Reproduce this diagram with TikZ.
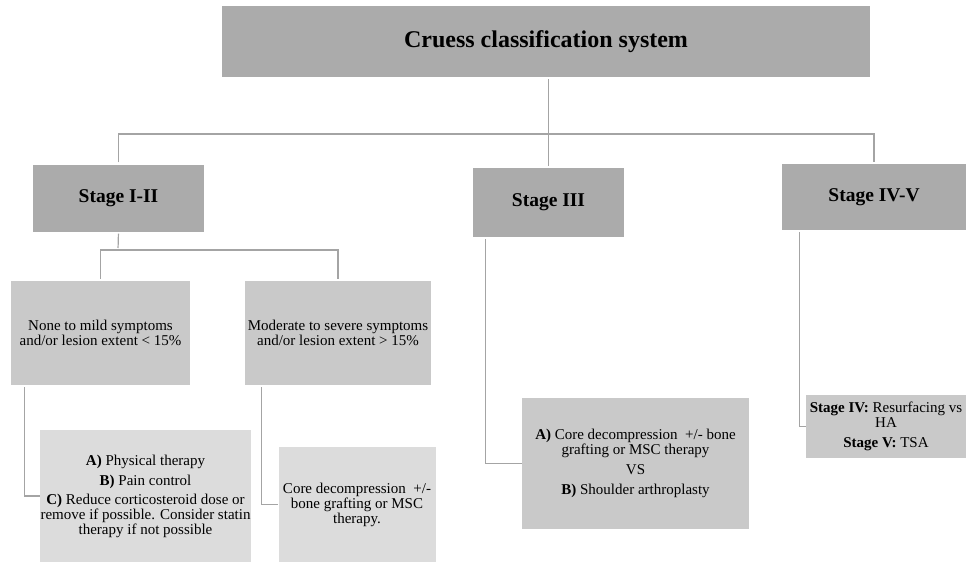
\documentclass[tikz,border=0pt]{standalone}
\usepackage{fontspec}
\setmainfont{Liberation Serif}
\usepackage{xcolor}
\usepackage{tikz}
\usetikzlibrary{positioning,calc}

\definecolor{boxdark}{HTML}{ABABAB}
\definecolor{boxmid}{HTML}{C9C9C9}
\definecolor{boxlight}{HTML}{DCDCDC}
\definecolor{linkgray}{HTML}{A4A4A4}

\begin{document}
\begin{tikzpicture}[
			x = 1pt, y = -1pt,
			box/.style = {rectangle, inner sep = 0pt, align = center},
			head/.style = {box, fill = boxdark, font = \fontsize{19.5}{22}\selectfont\bfseries},
			sub/.style = {box, fill = boxmid, font = \fontsize{15}{15}\selectfont},
			leaf/.style = {box, fill = boxlight, font = \fontsize{15}{15}\selectfont},
			link/.style = {draw = linkgray, line width = 1.2pt, shorten <= 2pt, shorten >= 2pt},
			side/.style = {draw = linkgray, line width = 1.2pt, shorten <= 2pt}]
			\useasboundingbox (0,0) rectangle (966,562);

			% top
			\node[head, minimum width = 648pt, minimum height = 71pt, font = \fontsize{24}{28}\selectfont\bfseries]
				(title) at (546,41.5) {Cruess classification system};

			% stages
			\node[head, minimum width = 171pt, minimum height = 67pt] (s12) at (118.5,198) {Stage I-II};
			\node[head, minimum width = 151pt, minimum height = 69pt] (s3) at (548.5,202.5) {Stage III};
			\node[head, minimum width = 184pt, minimum height = 66pt] (s45) at (874,197) {Stage IV-V};

			% stage I-II
			\node[sub, minimum width = 179pt, minimum height = 104pt] (mild) at (100.5,333)
				{None to mild symptoms\\ and/or lesion extent < 15\%};
			\node[sub, minimum width = 186pt, minimum height = 104pt] (severe) at (338,333)
				{Moderate to severe symptoms\\ and/or lesion extent > 15\%};
			\node[leaf, minimum width = 211pt, minimum height = 132pt] (conserv) at (145.5,496)
				{\textbf{A)} Physical therapy\\[5pt] \textbf{B)} Pain control\\[4pt]
				 \textbf{C)} Reduce corticosteroid dose or\\ remove if possible. Consider statin\\ therapy if not possible};
			\node[leaf, minimum width = 157pt, minimum height = 115pt] (core) at (357,504.5)
				{Core decompression \ +/-\\ bone grafting or MSC\\ therapy.};

			% stage III
			\node[sub, minimum width = 227pt, minimum height = 131pt] (s3opt) at (635.5,463.5)
				{\textbf{A)} Core decompression \ +/- bone\\ grafting or MSC therapy\\[5pt] VS\\[5pt] \textbf{B)} Shoulder arthroplasty};

			% stage IV-V
			\node[sub, minimum width = 160pt, minimum height = 63pt] (s45opt) at (886,426.5)
				{\textbf{Stage IV:} Resurfacing vs\\ HA\\[5pt] \textbf{Stage V:} TSA};

			\coordinate (bus) at (0,134);
			\coordinate (fork) at (118,250);

			\draw[link] (s3.north |- title.south) -- (s3.north);
			\draw[link] (s12.north) -- (s12.north |- bus) -| (s45.north);
			\draw[link] (s12.south) -- (fork);
			\draw[link] (mild.north) |- (fork) -| (severe.north);

			\draw[side] ([xshift=14pt]mild.south west) |- (conserv.west);
			\draw[side] ([xshift=17pt]severe.south west) |- (core.west);
			\draw[side] ([xshift=13pt]s3.south west) |- (s3opt.west);
			\draw[side] ([xshift=18pt]s45.south west) |- (s45opt.west);

		\end{tikzpicture}
\end{document}
